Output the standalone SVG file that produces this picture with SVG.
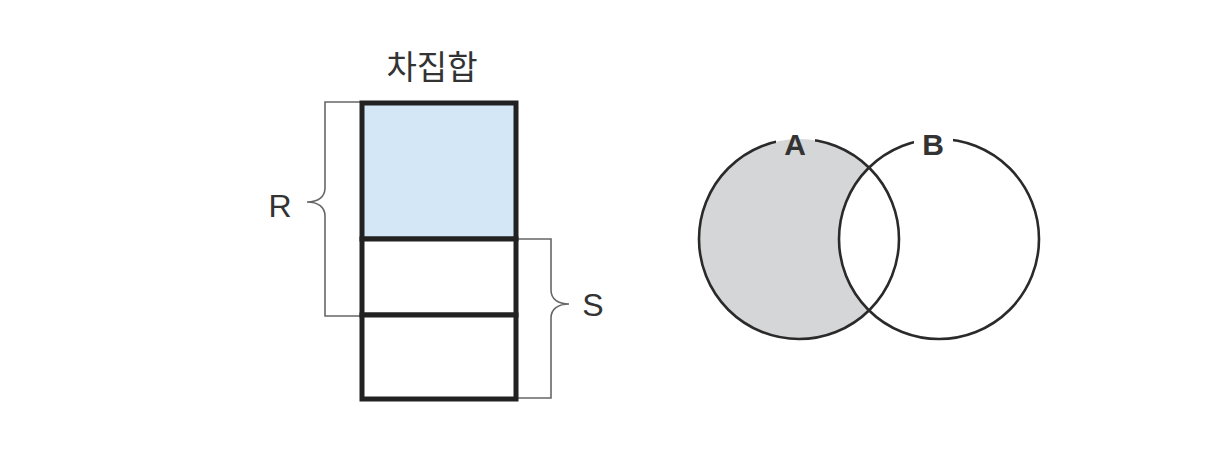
<svg xmlns="http://www.w3.org/2000/svg" width="1228" height="454" viewBox="0 0 1228 454">
<defs>
<style>
.lbl{font-family:"Liberation Sans","Noto Sans CJK KR",sans-serif;fill:#333;}
.brace{fill:none;stroke:#666;stroke-width:1.6;}
.box{stroke:#222;stroke-width:5;}
.circ{fill:none;stroke:#2a2a2a;stroke-width:2.6;}
</style>
<clipPath id="clipA"><circle cx="799" cy="239" r="100"/></clipPath>
<mask id="gaps" maskUnits="userSpaceOnUse" x="0" y="0" width="1228" height="454">
<rect width="1228" height="454" fill="#fff"/>
<rect x="776" y="128" width="39" height="28" fill="#000"/>
<rect x="914" y="128" width="39" height="28" fill="#000"/>
</mask>
</defs>
<rect width="1228" height="454" fill="#fff"/>
<g id="title"><text class="lbl" x="432" y="79" font-size="33" text-anchor="middle">차집합</text></g>
<g id="connectors">
<path class="brace" d="M362,102 H325 V188 C325,197 318,202 307,202 C318,202 325,207 325,216 V316 H362"/>
<path class="brace" d="M516,239 H551 V290 C551,299 558,304 569,304 C558,304 551,309 551,318 V398 H516"/>
</g>
<g id="table">
<rect x="362" y="103" width="154" height="136" fill="#d3e7f7" class="box"/>
<rect x="362" y="239" width="154" height="76" fill="#fff" class="box"/>
<rect x="362" y="315" width="154" height="84" fill="#fff" class="box"/>
</g>
<g id="labelR"><text class="lbl" x="280" y="217" font-size="32" text-anchor="middle">R</text></g>
<g id="labelS"><text class="lbl" x="593" y="316" font-size="32" text-anchor="middle">S</text></g>
<g id="venn">
<circle cx="799" cy="239" r="100" fill="#d5d6d8"/>
<circle cx="939" cy="239" r="100" fill="#fff" clip-path="url(#clipA)"/>
<g mask="url(#gaps)">
<circle cx="799" cy="239" r="100" class="circ"/>
<circle cx="939" cy="239" r="100" class="circ"/>
</g>
<text class="lbl" x="795" y="155" font-size="30" font-weight="bold" text-anchor="middle" fill="#222">A</text>
<text class="lbl" x="933" y="155" font-size="30" font-weight="bold" text-anchor="middle" fill="#222">B</text>
</g>
</svg>
